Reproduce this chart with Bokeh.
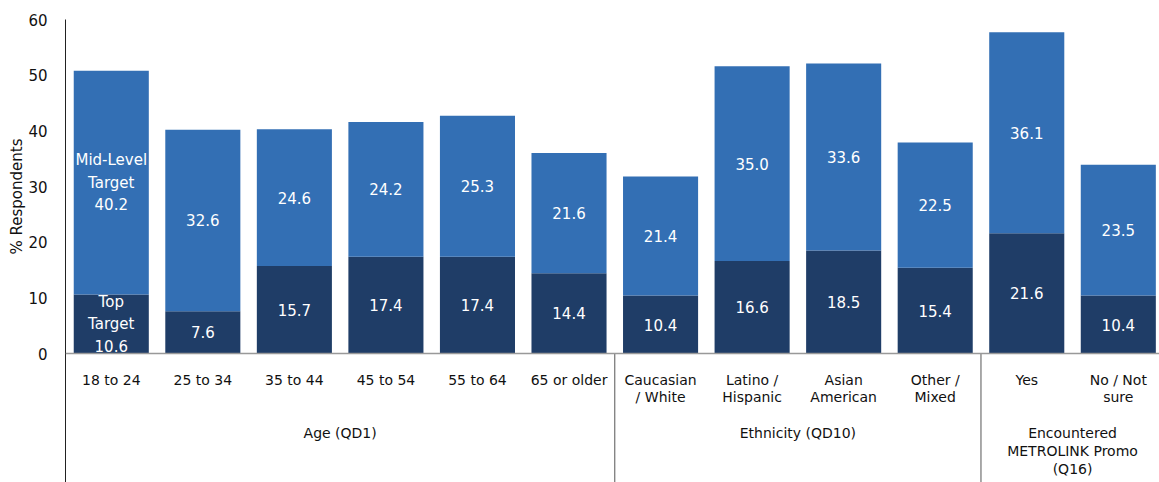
import math
from bokeh.plotting import figure
from bokeh.models import ColumnDataSource, FixedTicker, LinearAxis, Range1d, Title, Span
from bokeh.core.properties import value
from bokeh.embed import file_html
from bokeh.resources import INLINE

categories = ["18 to 24", "25 to 34", "35 to 44", "45 to 54", "55 to 64", "65 or older",
              "Caucasian\n/ White", "Latino /\nHispanic", "Asian\nAmerican", "Other /\nMixed",
              "Yes", "No / Not\nsure"]
top_target = [10.6, 7.6, 15.7, 17.4, 17.4, 14.4, 10.4, 16.6, 18.5, 15.4, 21.6, 10.4]
mid_target = [40.2, 32.6, 24.6, 24.2, 25.3, 21.6, 21.4, 35.0, 33.6, 22.5, 36.1, 23.5]
groups = ["Age (QD1)", "Ethnicity (QD10)", "Encountered\nMETROLINK Promo\n(Q16)"]
group_sizes = [6, 4, 2]
y_ticks = [0, 10, 20, 30, 40, 50, 60]
series_names = ["Top\nTarget", "Mid-Level\nTarget"]
y_title = "% Respondents"

DARK = "#1f3d67"
MID = "#336fb4"
FONT = "DejaVu Sans"
YMIN = -23.17

n = len(categories)
xs = [i + 0.5 for i in range(n)]
tops = [t + m for t, m in zip(top_target, mid_target)]
top_lbl = [f"{v:.1f}" for v in top_target]
mid_lbl = [f"{v:.1f}" for v in mid_target]
top_lbl[0] = series_names[0] + "\n" + top_lbl[0]
mid_lbl[0] = series_names[1] + "\n" + mid_lbl[0]

src = ColumnDataSource(dict(
    x=xs, top_t=top_target, total=tops,
    top_mid_y=[t / 2 for t in top_target],
    mid_mid_y=[t + m / 2 for t, m in zip(top_target, mid_target)],
    top_lbl=top_lbl, mid_lbl=mid_lbl, cat=categories,
))

p = figure(width=1159, height=482, x_range=Range1d(0, 11.95), y_range=Range1d(YMIN, 60),
           x_axis_type=None, y_axis_type=None, output_backend="svg", toolbar_location=None,
           min_border_left=65, min_border_right=0, min_border_top=19, min_border_bottom=0)
p.outline_line_color = None
p.xgrid.visible = False
p.ygrid.visible = False

yaxis = LinearAxis(ticker=FixedTicker(ticks=y_ticks))
yaxis.major_tick_line_color = None
yaxis.minor_tick_line_color = None
yaxis.axis_line_color = "#222222"
yaxis.major_label_text_font = FONT
yaxis.major_label_text_font_size = "15px"
yaxis.major_label_text_color = "#111111"
yaxis.major_label_standoff = 12
p.add_layout(yaxis, "left")

p.add_layout(Title(text=y_title, align="left", offset=228, text_font=FONT,
                   text_font_size="15px", text_font_style="normal", text_color="#111111",
                   standoff=0), "left")

p.vbar(x="x", width=0.82, bottom=0, top="top_t", source=src, fill_color=DARK, line_color=None)
p.vbar(x="x", width=0.82, bottom="top_t", top="total", source=src, fill_color=MID, line_color=None)

p.add_layout(Span(location=0, dimension="width", line_color="#999999", line_width=1.5))

seps = [sum(group_sizes[:k + 1]) for k in range(len(group_sizes) - 1)]
p.segment(x0=seps, y0=[0] * len(seps), x1=seps, y1=[YMIN] * len(seps),
          line_color="#555555", line_width=1)

p.text(x="x", y="top_mid_y", text="top_lbl", source=src, text_color="white",
       text_font=value(FONT), text_font_size="15px", text_align="center",
       text_baseline="middle", text_line_height=1.25)
p.text(x="x", y="mid_mid_y", text="mid_lbl", source=src, text_color="white",
       text_font=value(FONT), text_font_size="15px", text_align="center",
       text_baseline="middle", text_line_height=1.25)

p.text(x="x", y=-3.3, text="cat", source=src, text_color="#111111",
       text_font=value(FONT), text_font_size="14px", text_align="center",
       text_baseline="top", text_line_height=1.05)

gx = []
start = 0
for s in group_sizes:
    gx.append(start + s / 2)
    start += s
p.text(x=gx, y=[-12.9] * len(gx), text=groups, text_color="#111111",
       text_font=value(FONT), text_font_size="14px", text_align="center",
       text_baseline="top", text_line_height=1.1)

open("out.html", "w").write(file_html(p, INLINE))
